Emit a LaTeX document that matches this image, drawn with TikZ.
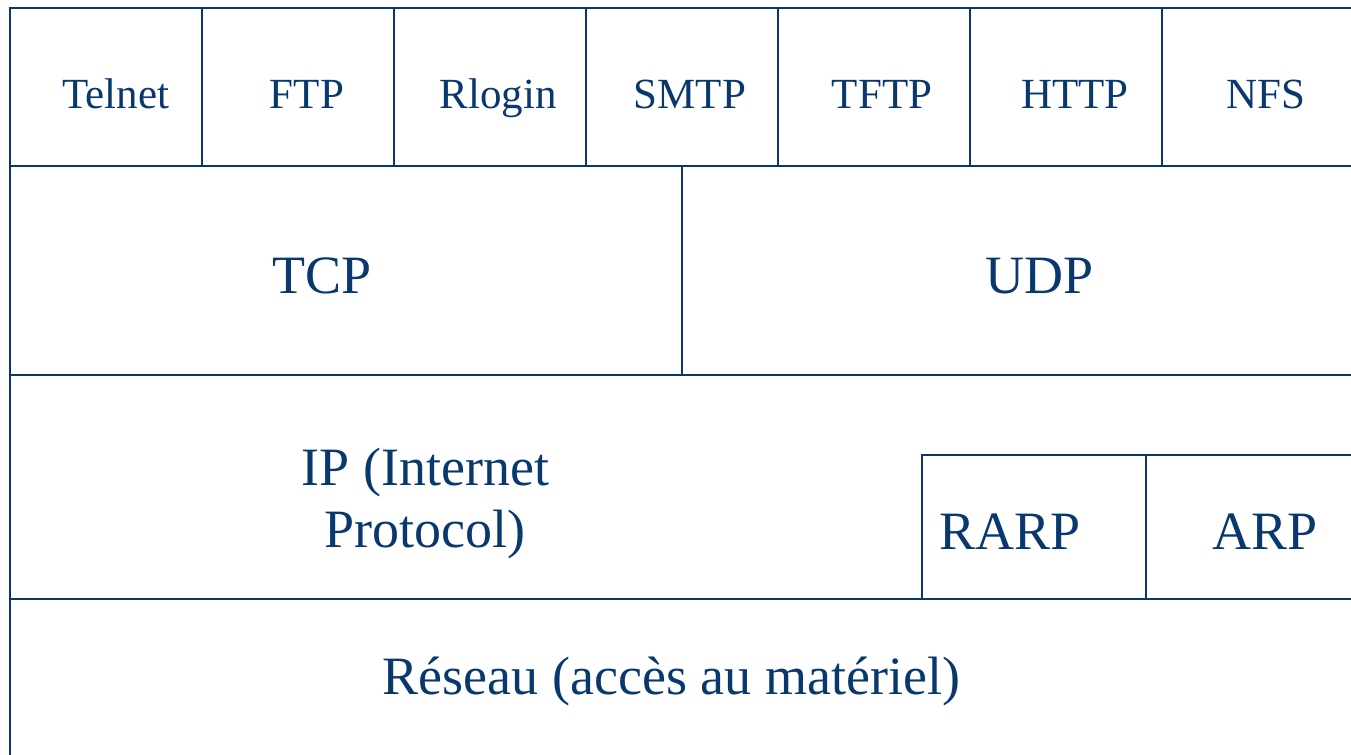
\documentclass[tikz,border=0pt]{standalone}
\usepackage{fontspec}
\setmainfont{Liberation Serif}
\definecolor{navy}{RGB}{8,56,110}
\begin{document}
\begin{tikzpicture}[x=0.5pt,y=-0.5pt,
  cell/.style={draw=navy,line width=1pt},
  small/.style={anchor=base,inner sep=0pt,text=navy,font=\fontsize{21.5}{26}\selectfont},
  big/.style={anchor=base,inner sep=0pt,text=navy,font=\fontsize{27}{32}\selectfont}]
\useasboundingbox (0,0) rectangle (1351,755);
\clip (0,0) rectangle (1351,755);
% application row
\foreach \i in {0,...,6}{
  \draw[cell] ({10+192*\i},8) rectangle ({202+192*\i},166);
}
% transport
\draw[cell] (10,166) rectangle (682,375);
\draw[cell] (682,166) rectangle (1370,375);
% network
\draw[cell] (10,375) rectangle (1370,599);
\draw[cell] (922,455) rectangle (1146,599);
\draw[cell] (1146,455) rectangle (1380,599);
% link
\draw[cell] (10,599) rectangle (1380,780);
% labels
\node[small] (telnet) at (116,108) {Telnet};
\node[small] (ftp) at (307,108) {FTP};
\node[small] (rlogin) at (498,108) {Rlogin};
\node[small] (smtp) at (690,108) {SMTP};
\node[small] (tftp) at (882,108) {TFTP};
\node[small] (http) at (1075,108) {HTTP};
\node[small] (nfs) at (1266,108) {NFS};
\node[big] (tcp) at (322,293) {TCP};
\node[big] (udp) at (1040,293) {UDP};
\node[big] (ip1) at (425.5,485) {IP (Internet};
\node[big] (ip2) at (425,547) {Protocol)};
\node[big] (rarp) at (1010,549) {RARP};
\node[big] (arp) at (1265,549) {ARP};
\node[big] (reseau) at (671.5,694) {Réseau (accès au matériel)};
\end{tikzpicture}
\end{document}
